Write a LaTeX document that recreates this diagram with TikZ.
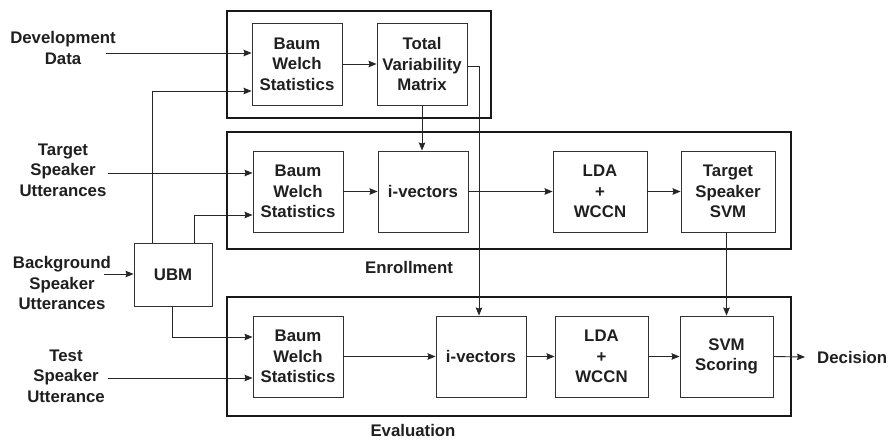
\documentclass[tikz,border=0pt]{standalone}
\usepackage{fontspec}
\setmainfont{Liberation Sans}
\usetikzlibrary{arrows.meta}
\begin{document}
\begin{tikzpicture}[x=1pt,y=-1pt,
  every node/.style={font=\fontsize{16.8}{20.5}\selectfont\bfseries, text=black!88, align=center, inner sep=0pt},
  box/.style={draw=black!80, line width=0.9pt, minimum width=90pt, minimum height=81pt},
  frame/.style={draw=black!90, line width=1.6pt},
  arr/.style={draw=black!85, line width=0.9pt, -{Stealth[length=8pt,width=6.5pt,inset=1pt]}},
  ln/.style={draw=black!85, line width=0.9pt}]
\useasboundingbox (0,0) rectangle (896,440);
% frames
\draw[frame] (227,11) rectangle (491,118);
\draw[frame] (227,132) rectangle (791,249);
\draw[frame] (227,297) rectangle (791,416);
% boxes
\node[box, minimum height=82pt] (bw1) at (297,64) {Baum\\Welch\\Statistics};
\node[box, minimum height=82pt] (tvm) at (422,64) {Total\\Variability\\Matrix};
\node[box] (bw2) at (298,191.5) {Baum\\Welch\\Statistics};
\node[box] (iv1) at (423,191.5) {i-vectors};
\node[box, minimum width=94pt] (lda1) at (600,191.5) {LDA\\+\\WCCN};
\node[box, minimum width=94pt] (ts) at (728,191.5) {Target\\Speaker\\SVM};
\node[box] (bw3) at (298,356.5) {Baum\\Welch\\Statistics};
\node[box] (iv2) at (481,356.5) {i-vectors};
\node[box, minimum width=93pt] (lda2) at (601.5,356.5) {LDA\\+\\WCCN};
\node[box, minimum width=93pt] (svm) at (726.5,356.5) {SVM\\Scoring};
\node[box, minimum width=78pt, minimum height=63pt] (ubm) at (173,274.5) {UBM};
% labels
\node (dev) at (63,48) {Development\\Data};
\node (tsu) at (63,170) {Target\\Speaker\\Utterances};
\node (bsu) at (62,283) {Background\\Speaker\\Utterances};
\node (test) at (66,376) {Test\\Speaker\\Utterance};
\node[anchor=west] (dec) at (817,357) {Decision};
\node (enr) at (409,267) {Enrollment};
\node (eva) at (413,430) {Evaluation};
% coordinates
\coordinate (devout) at (106,53);
\coordinate (tsuout) at (108,173);
\coordinate (bsuout) at (104,274);
\coordinate (testout) at (108,378);
\coordinate (u1) at (152,91);
\coordinate (u2) at (194,215);
\coordinate (u3) at (172,337);
\coordinate (tv) at (479,66);
\coordinate (decin) at (805,357);
% connectors
\draw[arr] (devout) -- (bw1.west |- devout);
\draw[arr] (ubm.north -| u1) -- (u1) -- (bw1.west |- u1);
\draw[arr] (bw1.east) -- (tvm.west);
\draw[arr] (tvm.south) -- (tvm.south |- iv1.north);
\draw[ln] (tvm.east |- tv) -- (tv);
\draw[arr] (tv) -- (tv |- iv2.north);
\draw[arr] (tsuout) -- (bw2.west |- tsuout);
\draw[arr] (ubm.north -| u2) -- (u2) -- (bw2.west |- u2);
\draw[arr] (bw2.east) -- (iv1.west);
\draw[arr] (iv1.east) -- (lda1.west);
\draw[arr] (lda1.east) -- (ts.west);
\draw[arr] (ts.south -| svm.north) -- (svm.north);
\draw[arr] (bsuout) -- (ubm.west |- bsuout);
\draw[arr] (ubm.south -| u3) -- (u3) -- (bw3.west |- u3);
\draw[arr] (testout) -- (bw3.west |- testout);
\draw[arr] (bw3.east) -- (iv2.west);
\draw[arr] (iv2.east) -- (lda2.west);
\draw[arr] (lda2.east) -- (svm.west);
\draw[arr] (svm.east) -- (decin);
\end{tikzpicture}
\end{document}
